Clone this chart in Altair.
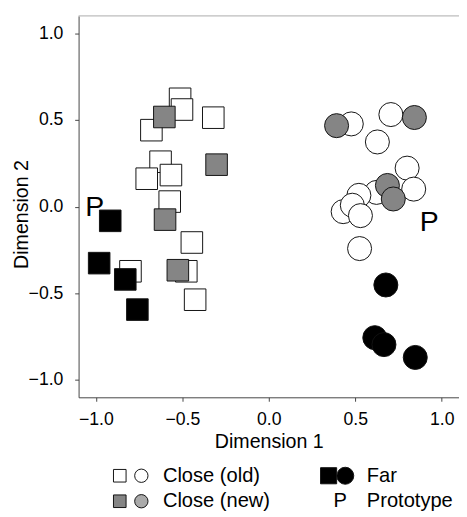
import altair as alt
import pandas as pd

# ---- data ----
sq_old_x = [-0.513, -0.502, -0.679, -0.321, -0.626, -0.706, -0.566, -0.573, -0.445, -0.800, -0.477, -0.426]
sq_old_y = [0.622, 0.560, 0.441, 0.513, 0.259, 0.161, 0.182, 0.029, -0.207, -0.373, -0.373, -0.537]
sq_new_x = [-0.604, -0.302, -0.600, -0.526]
sq_new_y = [0.517, 0.242, -0.075, -0.367]
sq_far_x = [-0.917, -0.981, -0.830, -0.760]
sq_far_y = [-0.082, -0.326, -0.420, -0.594]

ci_old_x = [0.477, 0.706, 0.628, 0.800, 0.838, 0.623, 0.521, 0.430, 0.483, 0.530, 0.525]
ci_old_y = [0.477, 0.531, 0.373, 0.222, 0.101, 0.082, 0.065, -0.029, 0.008, -0.052, -0.242]
ci_new_x = [0.392, 0.842, 0.686, 0.720]
ci_new_y = [0.467, 0.514, 0.122, 0.044]
ci_far_x = [0.677, 0.613, 0.666, 0.847]
ci_far_y = [-0.452, -0.756, -0.796, -0.870]

proto_x = [-1.007, 0.928]
proto_y = [-0.003, -0.091]

groups = ["Close (old)", "Close (new)", "Far"]
x_ticks = [-1.0, -0.5, 0.0, 0.5, 1.0]
y_ticks = [-1.0, -0.5, 0.0, 0.5, 1.0]
legend_labels = ["Close (old)", "Far", "Close (new)", "Prototype"]


def frame(xs, ys, group):
    return pd.DataFrame({"dim1": xs, "dim2": ys, "group": group})


squares = pd.concat([frame(sq_old_x, sq_old_y, groups[0]),
                     frame(sq_new_x, sq_new_y, groups[1]),
                     frame(sq_far_x, sq_far_y, groups[2])], ignore_index=True)
circles = pd.concat([frame(ci_old_x, ci_old_y, groups[0]),
                     frame(ci_new_x, ci_new_y, groups[1]),
                     frame(ci_far_x, ci_far_y, groups[2])], ignore_index=True)
protos = pd.DataFrame({"dim1": proto_x, "dim2": proto_y, "label": ["P", "P"]})

FONT = "Liberation Sans"
W, H = 388, 389

xenc = alt.X("dim1:Q", scale=alt.Scale(domain=[-1.1, 1.1], nice=False, zero=False),
             axis=alt.Axis(values=x_ticks, format=".1f", title="Dimension 1", labelPadding=10,
                           titleX=194, titleY=45, titleAlign="center", titleBaseline="middle"))
yenc = alt.Y("dim2:Q", scale=alt.Scale(domain=[-1.1, 1.1], nice=False, zero=False),
             axis=alt.Axis(values=y_ticks, format=".1f", title="Dimension 2", labelPadding=12,
                           titleX=-58, titleY=202, titleAlign="center", titleBaseline="middle"))

sq_layer = alt.Chart(squares).mark_point(shape="square", filled=True, size=484,
                                         stroke="#111111", strokeWidth=1, opacity=1).encode(
    x=xenc, y=yenc,
    fill=alt.Fill("group:N", scale=alt.Scale(domain=groups, range=["white", "#858585", "black"]), legend=None),
)
ci_layer = alt.Chart(circles).mark_point(shape="circle", filled=True, size=600,
                                         stroke="#111111", strokeWidth=1, opacity=1).encode(
    x="dim1:Q", y="dim2:Q",
    fill=alt.Fill("group:N", scale=alt.Scale(domain=groups, range=["white", "#999999", "black"]), legend=None),
)
p_layer = alt.Chart(protos).mark_text(font=FONT, fontSize=29, color="black").encode(
    x="dim1:Q", y="dim2:Q", text="label:N")

one = pd.DataFrame({"k": [0]})
top_line = alt.Chart(one).mark_rule(color="#aaaaaa", strokeWidth=1).encode(
    x=alt.value(0), x2=alt.value(W), y=alt.value(0))


def sym(shape, fill, px, py, size):
    return alt.Chart(one).mark_point(shape=shape, filled=True, fill=fill, stroke="#111111",
                                     strokeWidth=1, size=size, opacity=1).encode(
        x=alt.value(px), y=alt.value(py))


def txt(label, px, py, size=20.5):
    return alt.Chart(pd.DataFrame({"t": [label]})).mark_text(
        font=FONT, fontSize=size, align="left", baseline="middle", color="black").encode(
        x=alt.value(px), y=alt.value(py), text="t:N")


r1, r2 = 469, 495
legend_layers = [
    sym("square", "white", 42, r1, 165), sym("circle", "white", 64, r1, 185),
    txt(legend_labels[0], 86, r1),
    sym("square", "black", 255, r1, 270), sym("circle", "black", 272, r1, 300),
    txt(legend_labels[1], 294, r1),
    sym("square", "#858585", 42, r2, 165), sym("circle", "#aaaaaa", 64, r2, 185),
    txt(legend_labels[2], 86, r2),
    txt("P", 260, r2),
    txt(legend_labels[3], 294, r2),
]

chart = alt.layer(top_line, sq_layer, ci_layer, p_layer, *legend_layers).properties(
    width=W, height=H,
    autosize=alt.AutoSizeParams(type="none"),
    padding={"left": 72, "top": 3, "right": 0, "bottom": 117},
).configure_view(stroke=None).configure_axis(
    grid=False, domainColor="#444444", tickColor="#444444", tickSize=4,
    labelFont=FONT, labelFontSize=18, labelColor="black",
    titleFont=FONT, titleFontSize=20, titleFontWeight="normal", titleColor="black",
)

chart.save("out.html", embed_options={"renderer": "svg", "actions": False})
